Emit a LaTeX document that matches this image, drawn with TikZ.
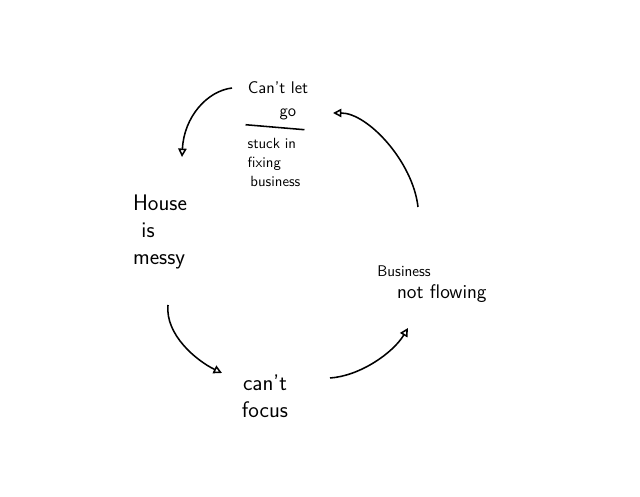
\documentclass[tikz,border=0pt]{standalone}
\usetikzlibrary{positioning,arrows.meta}

\begin{document}
\begin{tikzpicture}[x=0.025cm,y=-0.025cm,
	lbl/.style={font=\sffamily\fontsize{12}{15}\selectfont, inner sep=2pt},
	arr/.style={-{Triangle[open,length=6pt,width=6pt]}, line width=1.1pt}]
	\useasboundingbox (0,0) rectangle (640,497);

	\node[lbl, align=center] (cantgo) at (278,101) {Can't let\\[1pt]\hspace*{14pt}go};
	\node[lbl, align=left, font=\sffamily\fontsize{10.5}{13.5}\selectfont] (stuck) at (274,162) {stuck in\\fixing\\\hspace*{2pt}business};
	\node[lbl, align=left, font=\sffamily\fontsize{16}{19}\selectfont] (house) at (160,232) {House\\\hspace*{6pt}is\\messy};
	\node[lbl, align=center, font=\sffamily\fontsize{16}{19}\selectfont] (focus) at (265,396) {can't\\focus};
	\node[lbl, align=left, font=\sffamily\fontsize{14}{16}\selectfont] (flow) at (432,284) {{\fontsize{11}{13}\selectfont Business}\\\hspace*{14pt}not flowing};

	\draw[line width=1.1pt] ([shift={(1,-10)}]stuck.north west) -- ([shift={(1,-5)}]stuck.north east);

	\draw[arr] ([shift={(-46,-13)}]cantgo.center) .. controls +(-25,3) and +(2,-40) .. ([shift={(22,-75)}]house.center);
	\draw[arr] ([shift={(8,73)}]house.center) .. controls +(-3,30) and +(-25,-12) .. ([shift={(-43,-23)}]focus.center);
	\draw[arr] ([shift={(65,-18)}]focus.center) .. controls +(30,-2) and +(-15,25) .. ([shift={(-24,44)}]flow.center);
	\draw[arr] ([shift={(-14,-77)}]flow.center) .. controls +(-5,-45) and +(35,0) .. ([shift={(55,12)}]cantgo.center);
\end{tikzpicture}
\end{document}
